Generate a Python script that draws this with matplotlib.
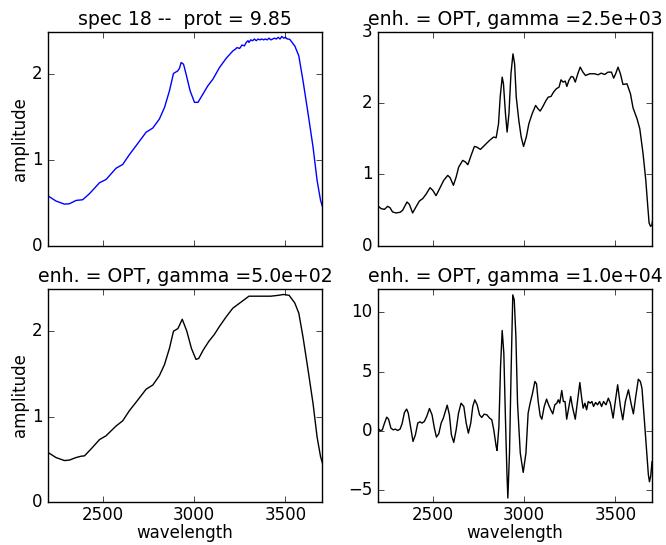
"""Spectrum 18 and its optimal enhancement at three gamma values."""

import matplotlib
matplotlib.use("Agg")
import matplotlib.pyplot as plt
import numpy as np

plt.style.use("classic")

# raw spectrum (top left)
raw_wl = [2200, 2244, 2290, 2317, 2354, 2390, 2427, 2482, 2518, 2573, 2609, 2646,
          2683, 2737, 2774, 2810, 2838, 2865, 2887, 2911, 2920, 2929, 2942, 2956,
          2978, 3002, 3021, 3048, 3075, 3103, 3139, 3176, 3212, 3225, 3235, 3249,
          3262, 3275, 3285, 3295, 3300, 3310, 3320, 3330, 3340, 3350, 3360, 3370,
          3380, 3390, 3400, 3410, 3420, 3430, 3440, 3450, 3460, 3470, 3480, 3490,
          3500, 3510, 3523, 3551, 3573, 3596, 3624, 3651, 3673, 3692, 3703]
raw_amp = [0.58, 0.52, 0.484, 0.488, 0.527, 0.535, 0.605, 0.733, 0.771, 0.903, 0.946, 1.062,
           1.167, 1.322, 1.372, 1.477, 1.612, 1.806, 2.008, 2.039, 2.07, 2.136, 2.116, 2.0,
           1.806, 1.671, 1.671, 1.767, 1.864, 1.942, 2.078, 2.186, 2.271, 2.29, 2.31, 2.30,
           2.34, 2.33, 2.37, 2.39, 2.37, 2.40, 2.39, 2.41, 2.39, 2.41, 2.40, 2.41,
           2.40, 2.41, 2.40, 2.42, 2.40, 2.41, 2.42, 2.41, 2.43, 2.41, 2.44, 2.42,
           2.43, 2.41, 2.407, 2.329, 2.213, 1.922, 1.535, 1.147, 0.76, 0.527, 0.45]

# enhanced, gamma = 5.0e+02 (bottom left)
g500_wl = [2200, 2244, 2290, 2317, 2354, 2380, 2400, 2440, 2482, 2518, 2573, 2609,
           2646, 2683, 2737, 2774, 2810, 2838, 2865, 2887, 2911, 2920, 2935, 2960,
           2985, 3010, 3025, 3050, 3080, 3110, 3140, 3176, 3212, 3250, 3300, 3360,
           3420, 3460, 3490, 3520, 3551, 3573, 3596, 3624, 3651, 3673, 3692, 3703]
g500_amp = [0.58, 0.52, 0.485, 0.49, 0.52, 0.535, 0.54, 0.63, 0.73, 0.775, 0.89, 0.95,
            1.07, 1.17, 1.32, 1.37, 1.48, 1.61, 1.80, 2.0, 2.03, 2.07, 2.14, 2.0,
            1.80, 1.67, 1.68, 1.78, 1.88, 1.96, 2.06, 2.17, 2.27, 2.33, 2.41, 2.41,
            2.41, 2.42, 2.43, 2.42, 2.33, 2.21, 1.93, 1.54, 1.15, 0.76, 0.53, 0.45]

# enhanced, gamma = 2.5e+03 (top right)
g2500_wl = [2200, 2218, 2236, 2253, 2266, 2280, 2299, 2321, 2335, 2359, 2372, 2390,
            2408, 2427, 2445, 2463, 2485, 2500, 2518, 2540, 2560, 2582, 2595, 2613,
            2628, 2642, 2664, 2679, 2692, 2710, 2728, 2741, 2761, 2783, 2811, 2833,
            2847, 2860, 2869, 2880, 2887, 2898, 2907, 2917, 2928, 2939, 2948, 2957,
            2971, 2984, 2997, 3012, 3026, 3044, 3063, 3076, 3088, 3103, 3118, 3132,
            3147, 3161, 3176, 3191, 3202, 3213, 3225, 3234, 3245, 3258, 3269, 3280,
            3295, 3307, 3322, 3336, 3359, 3386, 3405, 3422, 3441, 3459, 3478, 3490,
            3501, 3514, 3527, 3541, 3563, 3582, 3596, 3618, 3633, 3651, 3666, 3677,
            3684, 3692, 3699, 3703]
g2500_amp = [0.557, 0.519, 0.51, 0.552, 0.533, 0.473, 0.459, 0.468, 0.496, 0.613, 0.58, 0.459,
             0.543, 0.627, 0.66, 0.721, 0.814, 0.777, 0.702, 0.814, 0.917, 0.987, 0.955, 0.847,
             0.964, 1.104, 1.198, 1.175, 1.137, 1.268, 1.394, 1.385, 1.352, 1.408, 1.479, 1.526,
             1.516, 1.713, 2.087, 2.368, 2.274, 1.853, 1.596, 1.853, 2.415, 2.695, 2.555, 2.087,
             1.76, 1.526, 1.394, 1.526, 1.713, 1.853, 1.97, 1.923, 1.891, 1.956, 2.031, 2.087,
             2.096, 2.157, 2.204, 2.227, 2.33, 2.298, 2.312, 2.237, 2.321, 2.377, 2.368, 2.298,
             2.424, 2.508, 2.438, 2.391, 2.415, 2.415, 2.401, 2.424, 2.405, 2.438, 2.438, 2.354,
             2.415, 2.508, 2.415, 2.265, 2.274, 2.134, 1.937, 1.783, 1.643, 1.292, 0.917, 0.543,
             0.318, 0.271, 0.285, 0.346]

# enhanced, gamma = 1.0e+04 (bottom right)
g10k_wl = [2200, 2213, 2224, 2236, 2248, 2258, 2271, 2284, 2295, 2308, 2321, 2332,
           2345, 2357, 2366, 2381, 2392, 2405, 2418, 2430, 2441, 2454, 2467, 2482,
           2496, 2509, 2520, 2533, 2546, 2558, 2579, 2591, 2602, 2615, 2628, 2641,
           2655, 2670, 2683, 2695, 2708, 2719, 2730, 2743, 2756, 2768, 2781, 2796,
           2811, 2823, 2834, 2847, 2852, 2862, 2871, 2880, 2889, 2898, 2906, 2911,
           2920, 2929, 2938, 2946, 2955, 2964, 2979, 2995, 3010, 3022, 3033, 3046,
           3059, 3068, 3077, 3088, 3097, 3110, 3123, 3134, 3146, 3157, 3168, 3179,
           3187, 3195, 3206, 3215, 3224, 3233, 3242, 3255, 3264, 3280, 3292, 3305,
           3314, 3323, 3333, 3342, 3351, 3362, 3371, 3380, 3391, 3402, 3413, 3424,
           3435, 3448, 3461, 3472, 3487, 3499, 3512, 3527, 3540, 3554, 3571, 3585,
           3598, 3611, 3625, 3636, 3645, 3658, 3671, 3680, 3686, 3693, 3700]
g10k_amp = [0.22, 0.0, 0.08, 0.65, 1.15, 0.98, 0.22, 0.08, 0.14, 0.03, 0.14, 0.59,
            1.54, 1.83, 1.49, 0.08, -0.9, -0.34, 0.65, 0.76, 0.65, 0.79, 1.21, 1.88,
            1.35, 0.22, -0.53, -0.25, 0.65, 1.07, 2.16, 1.35, -0.34, -0.98, 0.08, 1.49,
            2.33, 2.05, 0.65, -0.2, 0.65, 2.05, 2.61, 2.19, 1.35, 1.12, 1.4, 1.35,
            1.07, 0.93, 0.08, -1.32, -1.66, 0.37, 5.42, 8.46, 6.54, 0.93, -3.57, -5.67,
            -1.88, 5.14, 11.46, 11.04, 7.95, 2.33, -1.88, -3.51, -1.88, 1.49, 2.33, 3.17,
            4.16, 3.96, 2.47, 1.26, 0.98, 2.05, 2.67, 2.19, 1.77, 1.43, 2.19, 2.33,
            2.61, 2.33, 3.4, 2.47, 2.47, 0.98, 1.77, 2.89, 2.05, 0.98, 2.47, 4.07,
            2.89, 1.91, 2.33, 1.77, 2.47, 2.33, 2.47, 2.05, 2.39, 2.19, 2.47, 2.05,
            2.47, 2.19, 2.75, 2.33, 1.07, 2.47, 3.88, 2.05, 0.93, 2.47, 3.46, 2.33,
            1.43, 2.89, 4.35, 4.16, 3.6, 0.93, -1.88, -3.7, -4.3, -3.8, -2.6]

fig, axes = plt.subplots(2, 2, figsize=(6.66, 5.45), dpi=100, facecolor="white")
fig.subplots_adjust(left=0.072, right=0.979, bottom=0.079, top=0.941,
                    wspace=0.204, hspace=0.201)

TITLE_FS = 13.6

ax = axes[0, 0]
ax.plot(raw_wl, raw_amp, color="b", lw=1.0)
ax.set_ylim(0, 2.49)
ax.set_title("spec 18 --  prot = 9.85", fontsize=TITLE_FS)
ax.set_ylabel("amplitude", fontsize=12, labelpad=2)

ax = axes[0, 1]
ax.plot(g2500_wl, g2500_amp, color="k", lw=1.0)
ax.set_ylim(0, 3)
ax.set_title("enh. = OPT, gamma =2.5e+03", fontsize=TITLE_FS)

ax = axes[1, 0]
ax.plot(g500_wl, g500_amp, color="k", lw=1.0)
ax.set_ylim(0, 2.5)
ax.set_title("enh. = OPT, gamma =5.0e+02", fontsize=TITLE_FS)
ax.set_ylabel("amplitude", fontsize=12, labelpad=2)
ax.set_xlabel("wavelength", fontsize=12, labelpad=0)

ax = axes[1, 1]
ax.plot(g10k_wl, g10k_amp, color="k", lw=1.0)
ax.set_ylim(-6, 12)
ax.set_title("enh. = OPT, gamma =1.0e+04", fontsize=TITLE_FS)
ax.set_xlabel("wavelength", fontsize=12, labelpad=0)

for ax in axes.flat:
    ax.set_xlim(2200, 3700)
    ax.set_xticks([2500, 3000, 3500])
    ax.tick_params(labelsize=12)
    ax.tick_params(axis="x", pad=3)
    ax.set_facecolor("white")
for ax in axes[0]:
    ax.set_xticklabels([])
for ax in axes[:, 0]:
    ax.set_yticks([0, 1, 2])
axes[0, 1].set_yticks([0, 1, 2, 3])
axes[1, 1].set_yticks([-5, 0, 5, 10])

fig.savefig("out.png", dpi=100, facecolor="white")
